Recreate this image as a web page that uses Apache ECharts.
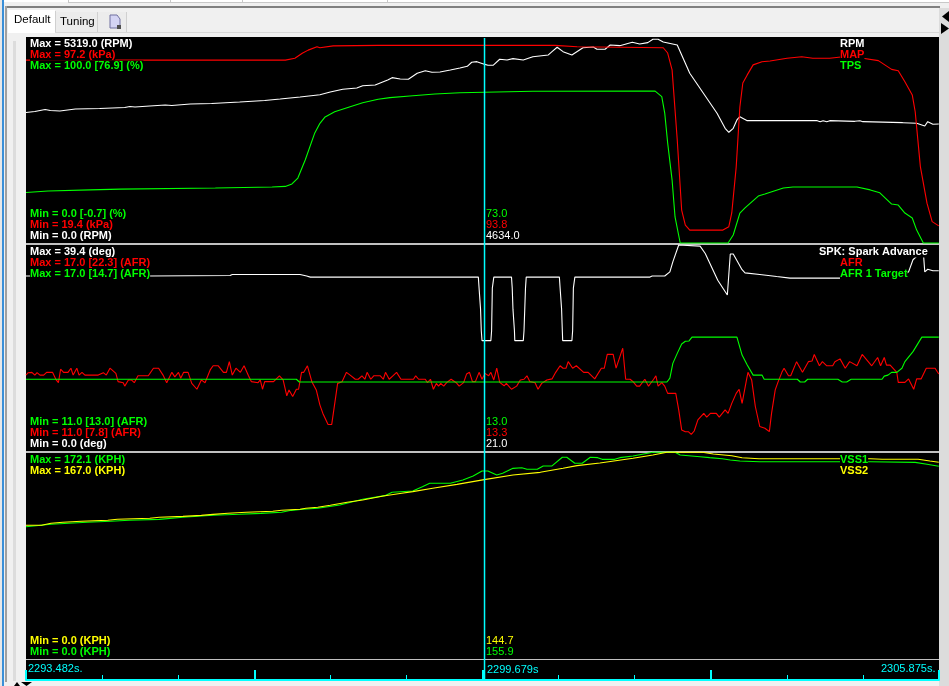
<!DOCTYPE html>
<html>
<head>
<meta charset="utf-8">
<title>Datalog</title>
<style>
	html, body { margin: 0; padding: 0; background: #f0f0f0; }
	#main { width: 949px; height: 686px; }
</style>
<script src="https://cdn.jsdelivr.net/npm/echarts@6/dist/echarts.min.js"></script>
</head>
<body>
<div id="main"></div>
<script>
// seconds since the start of the window, value in the channel's own unit
var logSpan = 12.393;
var cursorTime = 6.224;

var rpmData = [[0,3386],[.12,3412],[.26,3464],[.33,3438],[.46,3425],[.67,3477],[1,3490],[1.34,3516],[1.41,3542],[1.48,3529],[1.68,3555],[1.89,3581],[1.98,3568],[2.23,3607],[2.52,3620],[2.9,3659],[3.24,3698],[3.45,3737],[3.72,3789],[3.99,3848],[4.13,3918],[4.3,3989],[4.49,4022],[4.57,4082],[4.74,4100],[4.85,4186],[4.91,4230],[4.97,4290],[5.08,4256],[5.19,4248],[5.31,4404],[5.42,4471],[5.51,4430],[5.62,4437],[5.76,4489],[5.89,4541],[5.99,4585],[6.05,4689],[6.12,4705],[6.23,4634],[6.27,4611],[6.34,4611],[6.43,4767],[6.53,4749],[6.61,4783],[6.75,4749],[6.88,4834],[7.09,4879],[7.14,4964],[7.21,5078],[7.29,4964],[7.41,4879],[7.56,5068],[7.7,5086],[7.75,5027],[7.86,5027],[7.93,5138],[8.06,5120],[8.23,5208],[8.33,5164],[8.44,5198],[8.51,5286],[8.58,5286],[8.65,5216],[8.84,5138],[9.01,4404],[9.38,3366],[9.49,2976],[9.54,2873],[9.6,2976],[9.65,3192],[9.69,3278],[9.79,3174],[10.74,3174],[10.78,3148],[10.82,3174],[10.87,3148],[10.91,3174],[11.25,3157],[11.32,3174],[11.36,3148],[11.9,3122],[12.09,3106],[12.2,3036],[12.24,3148],[12.31,3080],[12.39,3088]];

var mapData = [[0,88.8],[3.52,88.8],[3.54,88.7],[3.65,89.5],[3.75,91.4],[3.83,92.6],[3.95,93.9],[3.99,93.5],[4.17,94.2],[4.78,94.4],[7.18,94.4],[7.48,93.9],[8.65,93.5],[8.71,91.5],[8.77,85.1],[8.84,58.5],[8.9,31.9],[8.95,26.2],[9.01,24.3],[9.46,24.3],[9.54,25.6],[9.58,30.8],[9.64,48.2],[9.69,71],[9.73,80.1],[9.79,83.2],[9.87,87],[9.99,88.2],[10.1,88.5],[10.33,89.5],[10.53,90.1],[10.68,89.5],[10.91,89.5],[11.09,90.1],[11.36,89.5],[11.57,88.6],[11.75,85.3],[11.84,84.8],[11.93,80.6],[12.03,75.6],[12.07,69.2],[12.14,48.4],[12.23,34.5],[12.3,27.5],[12.39,25.9]];

var tpsData = [[0,24.6],[.3,25.4],[.87,25.9],[1.28,26.3],[2.57,26.8],[3.34,27.3],[3.52,27.6],[3.61,28.8],[3.69,31.7],[3.79,40.5],[3.92,53.7],[3.99,58.4],[4.06,61.5],[4.19,64],[4.4,66.5],[4.57,68.4],[4.78,70.1],[4.94,70.9],[5.21,71.7],[5.55,72.7],[5.89,73.3],[6.88,74],[8.33,74.1],[8.54,74.1],[8.63,71.4],[8.67,63.4],[8.71,48.8],[8.77,30.7],[8.81,12.7],[8.88,0],[9.53,0],[9.6,3.9],[9.69,14.6],[9.76,17.1],[9.94,22.9],[10.03,23.9],[10.28,26.8],[10.41,27.3],[11.28,27.3],[11.46,25.9],[11.59,24.5],[11.75,19],[11.84,18.5],[11.93,14.6],[12.03,12.2],[12.09,6.3],[12.18,0],[12.39,0]];

var spkData = [[0,33.3],[1.66,33.3],[1.68,33.4],[2.77,33.4],[2.8,33.6],[3.72,33.6],[3.81,33.3],[3.86,33.1],[6.14,33.1],[6.15,31],[6.17,27],[6.18,22.9],[6.19,21],[6.31,21],[6.32,22.9],[6.33,31],[6.35,33.1],[6.59,33.1],[6.6,31],[6.61,27],[6.63,22.9],[6.635,21],[6.75,21],[6.76,22.9],[6.78,31],[6.79,33.1],[7.24,33.1],[7.25,31],[7.27,27],[7.28,22.9],[7.285,21],[7.41,21],[7.42,22.9],[7.43,31],[7.45,33.1],[8.47,33.1],[8.5,33.3],[8.67,33.3],[8.74,34.1],[8.78,36],[8.86,39.2],[9.15,39],[9.22,37.6],[9.39,32.5],[9.52,29.7],[9.56,37.5],[9.6,37.5],[9.72,34.5],[9.76,33.9],[9.96,33.6],[10.19,33.2],[10.37,32.9],[11.73,32.9],[11.93,33.6],[11.98,34.1],[12.04,36.4],[12.14,37.7],[12.18,37.9],[12.2,34.1],[12.24,34.6],[12.31,34.3],[12.39,34.3]];

var afrData = [[0,13.2],[.03,13.27],[.08,13.28],[.12,13.2],[.15,13.27],[.19,13.2],[.24,13.2],[.28,13.28],[.36,13.28],[.41,13.06],[.44,12.98],[.47,13.37],[.51,13.28],[.57,13.28],[.61,13.4],[.64,13.2],[.69,13.4],[.72,13.2],[.76,13.28],[.8,13.2],[.98,13.2],[1.05,13.27],[1.09,13.2],[1.14,13.4],[1.22,13.25],[1.25,13.01],[1.32,12.98],[1.34,12.88],[1.39,13.06],[1.43,13.06],[1.47,12.98],[1.52,13.18],[1.66,13.18],[1.73,13.4],[1.8,13.4],[1.86,13.2],[1.91,12.98],[1.98,13.28],[2.02,13.15],[2.07,13.28],[2.1,13.11],[2.14,13.28],[2.2,13.28],[2.25,12.96],[2.32,12.79],[2.38,13.06],[2.43,12.98],[2.5,13.35],[2.54,13.47],[2.61,13.47],[2.68,13.28],[2.72,13.28],[2.76,13.59],[2.8,13.2],[2.85,13.4],[2.91,13.28],[2.96,13.47],[3.02,13.18],[3.06,13.01],[3.15,12.98],[3.18,13.06],[3.21,12.79],[3.24,13.01],[3.36,13.01],[3.44,13.18],[3.49,13.06],[3.54,12.6],[3.57,12.77],[3.62,12.58],[3.67,12.79],[3.7,12.79],[3.74,13.28],[3.77,13.28],[3.82,13.47],[3.88,13.01],[3.94,12.77],[3.99,12.33],[4.03,12.09],[4.1,11.77],[4.15,11.77],[4.23,12.96],[4.29,13.01],[4.35,13.28],[4.4,13.2],[4.47,13.08],[4.51,13.08],[4.56,13.18],[4.6,13.08],[4.63,13.28],[4.68,13.08],[4.72,13.18],[4.81,13.18],[4.85,13.08],[4.88,13.28],[4.93,13.08],[4.98,13.18],[5.03,13.28],[5.09,13.08],[5.26,13.08],[5.29,13.18],[5.33,13.08],[5.42,13.08],[5.45,12.98],[5.49,13.08],[5.53,12.79],[5.57,12.96],[5.6,12.88],[5.63,12.96],[5.67,12.88],[5.71,12.98],[5.77,13.08],[5.84,12.98],[5.88,12.88],[5.94,12.98],[5.98,13.23],[6.02,13.28],[6.06,13.01],[6.1,13.01],[6.15,13.28],[6.19,13.08],[6.23,13.25],[6.28,13.18],[6.31,13.28],[6.35,13.06],[6.39,13.4],[6.43,12.99],[6.49,12.89],[6.52,12.96],[6.59,12.79],[6.66,12.88],[6.71,13.06],[6.76,13.08],[6.8,13.18],[6.84,13.01],[6.91,12.98],[6.95,12.79],[7,12.96],[7.07,13.06],[7.14,13.09],[7.19,13.28],[7.25,13.47],[7.29,13.4],[7.33,13.4],[7.36,13.59],[7.42,13.4],[7.47,13.47],[7.57,13.28],[7.63,13.28],[7.72,13.09],[7.81,13.4],[7.85,13.4],[7.89,13.8],[7.97,13.8],[8.01,13.4],[8.1,13.98],[8.14,13.08],[8.2,13.08],[8.24,13.01],[8.29,12.88],[8.33,12.88],[8.4,13.08],[8.45,12.88],[8.52,13.08],[8.55,13.18],[8.58,12.88],[8.63,12.98],[8.67,12.88],[8.71,12.67],[8.82,12.67],[8.86,12.19],[8.9,11.61],[8.95,11.56],[8.99,11.56],[9.03,11.48],[9.07,11.58],[9.12,11.9],[9.2,12.09],[9.24,11.98],[9.29,12.09],[9.37,12.09],[9.41,11.98],[9.49,12.19],[9.53,12.09],[9.58,12.38],[9.64,12.67],[9.68,12.79],[9.72,12.38],[9.78,13.06],[9.8,13.28],[9.85,13.06],[9.9,12.29],[9.96,11.71],[10.03,11.66],[10.09,11.56],[10.12,12.09],[10.17,12.77],[10.21,13.01],[10.26,13.28],[10.29,13.4],[10.35,13.18],[10.38,13.18],[10.46,13.59],[10.54,13.28],[10.62,13.59],[10.67,13.61],[10.7,13.8],[10.77,13.47],[10.81,13.59],[10.87,13.47],[10.95,13.47],[10.98,13.59],[11.05,13.67],[11.12,13.4],[11.18,13.59],[11.28,13.47],[11.35,13.8],[11.48,13.47],[11.56,13.71],[11.6,13.47],[11.65,13.71],[11.68,13.49],[11.73,13.49],[11.82,13.28],[11.84,12.99],[11.93,12.99],[11.98,13.09],[12.05,12.79],[12.09,13.09],[12.15,13.09],[12.22,13.4],[12.34,13.4],[12.39,13.23]];

var afrTargetData = [[0,13.08],[3.67,13.08],[3.71,13],[8.7,13],[8.74,13.11],[8.78,13.54],[8.84,13.83],[8.9,14.1],[8.95,14.18],[9,14.19],[9.04,14.3],[9.65,14.3],[9.72,13.78],[9.79,13.49],[9.87,13.2],[9.99,13.2],[10.02,13.08],[10.47,13.08],[10.51,13],[10.57,13],[10.61,13.08],[11.02,13.08],[11.08,13],[11.14,13],[11.2,13.08],[11.62,13.08],[11.65,13.17],[11.7,13.2],[11.75,13.28],[11.82,13.28],[11.89,13.4],[11.93,13.59],[12.04,13.88],[12.16,14.3],[12.39,14.3]];

var vss1Data = [[0,110],[.34,112],[.58,112.8],[.83,113.7],[1.15,114.5],[1.4,115.3],[1.81,116.1],[2.13,117.8],[2.54,119.5],[2.9,120.3],[3.19,121.1],[3.47,122],[3.6,123.6],[3.76,124.5],[3.96,125.3],[4.26,128],[4.57,132.8],[4.87,135.8],[4.97,138.6],[5.25,139.7],[5.38,143.2],[5.48,146.1],[5.76,146.1],[5.93,148.8],[6.07,152.1],[6.19,156.3],[6.27,156.3],[6.39,153],[6.47,154.4],[6.61,158.5],[6.73,159],[6.8,157.7],[6.94,157.7],[7.02,160.5],[7.14,160.5],[7.28,167.7],[7.34,167.7],[7.45,162.7],[7.55,162.7],[7.66,167.7],[7.76,167.4],[7.82,166],[7.99,166],[8.06,167.4],[8.24,168.8],[8.51,171.9],[8.81,171.9],[8.88,169.6],[9.15,168.2],[9.28,167.4],[9.45,166.5],[9.56,165.4],[9.69,164.6],[9.96,164],[11.46,164],[12.07,163.5],[12.23,161.9],[12.39,160.2]];

var vss2Data = [[0,107.9],[.21,107.9],[.22,108.7],[.34,109.5],[.5,110.3],[.75,111.1],[1.11,111.9],[1.24,112.7],[1.68,113.5],[1.81,114.3],[2.13,115.1],[2.38,115.9],[2.54,116.7],[2.74,117.6],[2.99,118.4],[3.35,119.2],[3.47,120],[3.72,120.8],[3.8,121.6],[3.96,122.4],[4.13,124],[4.36,126.4],[4.57,128.3],[4.85,131.5],[5.1,133.7],[5.25,135],[5.52,137.7],[5.85,140.9],[6.22,144.7],[6.61,148.5],[6.98,150.6],[7.29,153.9],[7.48,156],[7.79,158.1],[8.24,161.9],[8.51,164.6],[8.7,166.8],[9.18,166.8],[9.33,165.4],[9.58,164],[9.72,162.4],[9.95,161.6],[11.46,161.6],[11.62,161.1],[12.11,161.1],[12.27,159.7],[12.39,158.7]];

// text rows of each pane: label, colour, left, centre line, weight
var GREEN = '#00ff00', RED = '#ff0000', WHITE = '#ffffff', YELLOW = '#ffff00', CYAN = '#00ffff';
var paneLabels = [
	['Max = 5319.0 (RPM)', WHITE, 30, 44, 'bold'],
	['Max = 97.2 (kPa)', RED, 30, 55, 'bold'],
	['Max = 100.0 [76.9] (%)', GREEN, 30, 66, 'bold'],
	['Min = 0.0 [-0.7] (%)', GREEN, 30, 214, 'bold'],
	['Min = 19.4 (kPa)', RED, 30, 225, 'bold'],
	['Min = 0.0 (RPM)', WHITE, 30, 236, 'bold'],
	['RPM', WHITE, 840, 44, 'bold'],
	['MAP', RED, 840, 55, 'bold'],
	['TPS', GREEN, 840, 66, 'bold'],
	['73.0', GREEN, 486, 214, 'normal'],
	['93.8', RED, 486, 225, 'normal'],
	['4634.0', WHITE, 486, 236, 'normal'],
	['Max = 39.4 (deg)', WHITE, 30, 252, 'bold'],
	['Max = 17.0 [22.3] (AFR)', RED, 30, 263, 'bold'],
	['Max = 17.0 [14.7] (AFR)', GREEN, 30, 274, 'bold'],
	['Min = 11.0 [13.0] (AFR)', GREEN, 30, 422, 'bold'],
	['Min = 11.0 [7.8] (AFR)', RED, 30, 433, 'bold'],
	['Min = 0.0 (deg)', WHITE, 30, 444, 'bold'],
	['SPK: Spark Advance', WHITE, 819, 252, 'bold'],
	['AFR', RED, 840, 263, 'bold'],
	['AFR 1 Target', GREEN, 840, 274, 'bold'],
	['13.0', GREEN, 486, 422, 'normal'],
	['13.3', RED, 486, 433, 'normal'],
	['21.0', WHITE, 486, 444, 'normal'],
	['Max = 172.1 (KPH)', GREEN, 30, 460, 'bold'],
	['Max = 167.0 (KPH)', YELLOW, 30, 471, 'bold'],
	['Min = 0.0 (KPH)', YELLOW, 30, 641, 'bold'],
	['Min = 0.0 (KPH)', GREEN, 30, 652, 'bold'],
	['VSS1', GREEN, 840, 460, 'bold'],
	['VSS2', YELLOW, 840, 471, 'bold'],
	['144.7', YELLOW, 486, 641, 'normal'],
	['155.9', GREEN, 486, 652, 'normal'],
	['2293.482s.', CYAN, 28, 669, 'normal'],
	['2299.679s', CYAN, 487, 670, 'normal'],
	['2305.875s.', CYAN, 881, 669, 'normal']
];

var myChart = echarts.init(document.getElementById('main'));

function plotGrid(top, height) {
	return {left: 26, width: 913, top: top, height: height};
}

function timeAxis(gridIndex) {
	return {type: 'value', gridIndex: gridIndex, min: 0, max: logSpan, show: false};
}

function rangeAxis(gridIndex, min, max) {
	return {type: 'value', gridIndex: gridIndex, min: min, max: max, show: false};
}

function channel(name, data, gridIndex, yAxisIndex, color) {
	return {
		name: name,
		type: 'line',
		data: data,
		xAxisIndex: gridIndex,
		yAxisIndex: yAxisIndex,
		showSymbol: false,
		clip: false,
		animation: false,
		silent: true,
		lineStyle: {color: color, width: 1.1}
	};
}

// timeline ruler: one axis for the thin ticks, one for the thick ones
function rulerAxis(interval, tickLength, tickWidth, drawLine) {
	return {
		type: 'value', gridIndex: 3, min: 0, max: logSpan, interval: interval, position: 'bottom', z: 5,
		axisLine: {show: drawLine, lineStyle: {color: CYAN, width: 2}},
		axisTick: {show: true, inside: true, length: tickLength, lineStyle: {color: CYAN, width: tickWidth}},
		axisLabel: {show: false},
		splitLine: {show: false}
	};
}

function box(x, y, w, h, fill, z) {
	return {type: 'rect', z: z || 1, silent: true, shape: {x: x, y: y, width: w, height: h}, style: {fill: fill}};
}

function arrow(points) {
	return {type: 'polygon', z: 1, silent: true, shape: {points: points}, style: {fill: '#000'}};
}

function chromeItems() {
	return [
		box(0, 0, 949, 686, '#f0f0f0'),
		box(0, 0, 949, 2, '#ffffff'),
		box(68, 2, 881, 1, '#c8c8c8'),
		box(68, 0, 1, 3, '#c8c8c8'),
		box(170, 0, 1, 3, '#c8c8c8'),
		box(242, 0, 1, 3, '#c8c8c8'),
		box(387, 0, 1, 3, '#c8c8c8'),
		box(0, 0, 2, 686, '#e8e8e8'),
		box(2, 0, 2, 686, '#3a8fd8'),
		box(5, 6, 935, 2, '#808080'),
		box(5, 6, 2, 676, '#a0a0a0'),
		box(13, 41, 3, 640, '#dcdcdc'),
		box(25, 32, 914, 1, '#d8d8d8'),
		box(8, 10, 47, 23, '#ffffff'),
		box(56, 12, 41, 20, '#ececec'),
		box(98, 12, 28, 20, '#ececec'),
		box(55, 11, 1, 21, '#d0d0d0'),
		box(97, 12, 1, 20, '#d0d0d0'),
		box(126, 12, 1, 20, '#d0d0d0'),
		{type: 'polygon', z: 1, silent: true, shape: {points: [[110, 15], [117, 15], [120, 19], [120, 28], [110, 28]]}, style: {fill: '#d4d4f4', stroke: '#7070a0', lineWidth: 1}},
		box(117, 25, 4, 4, '#505050'),
		{type: 'text', z: 2, silent: true, x: 14, y: 20, style: {text: 'Default', fill: '#000', font: '11.5px "Liberation Sans"', verticalAlign: 'middle'}},
		{type: 'text', z: 2, silent: true, x: 60, y: 22, style: {text: 'Tuning', fill: '#000', font: '11.5px "Liberation Sans"', verticalAlign: 'middle'}},
		box(939, 8, 10, 678, '#dcdcdc'),
		arrow([[949, 11], [949, 22], [942, 16.5]]),
		arrow([[941, 23], [941, 34], [949, 28.5]]),
		arrow([[14, 686], [17, 682], [20, 686]]),
		arrow([[21, 682], [32, 682], [26.5, 686]]),
		box(26, 37, 913, 644, '#000000'),
		box(26, 243, 913, 2, '#c0c0c0'),
		box(26, 451, 913, 2, '#c0c0c0'),
		box(26, 659, 913, 1, '#c0c0c0')
	];
}

function labelItems() {
	var items = [];
	for (var i = 0; i < paneLabels.length; i++) {
		var row = paneLabels[i];
		items.push({
			type: 'text',
			z: 50,
			silent: true,
			x: row[2],
			y: row[3],
			style: {
				text: row[0],
				fill: row[1],
				font: row[4] + ' 11px "Liberation Sans"',
				verticalAlign: 'middle',
				backgroundColor: '#000'
			}
		});
	}
	return items;
}

var cursorSeries = channel('cursor', [[cursorTime, 0], [cursorTime, 1]], 4, 9, CYAN);
cursorSeries.z = 20;
cursorSeries.lineStyle.width = 1.5;

var option = {
	backgroundColor: '#f0f0f0',
	animation: false,
	grid: [
		plotGrid(38, 205),
		plotGrid(244, 207),
		plotGrid(452, 207),
		plotGrid(660, 20),
		plotGrid(38, 642)
	],
	xAxis: [
		timeAxis(0),
		timeAxis(1),
		timeAxis(2),
		rulerAxis(logSpan / 12, 5, 1, true),
		timeAxis(4),
		rulerAxis(logSpan / 4, 10, 2, false)
	],
	yAxis: [
		rangeAxis(0, 0, 5319),
		rangeAxis(0, 19.4, 97.2),
		rangeAxis(0, 0, 100),
		rangeAxis(1, 0, 39.4),
		rangeAxis(1, 11, 17),
		rangeAxis(1, 11, 17),
		rangeAxis(2, 0, 172.1),
		rangeAxis(2, 0, 167),
		rangeAxis(3, 0, 1),
		rangeAxis(4, 0, 1)
	],
	graphic: {elements: chromeItems().concat(labelItems())},
	series: [
		channel('RPM', rpmData, 0, 0, WHITE),
		channel('MAP', mapData, 0, 1, RED),
		channel('TPS', tpsData, 0, 2, GREEN),
		channel('SPK: Spark Advance', spkData, 1, 3, WHITE),
		channel('AFR', afrData, 1, 4, RED),
		channel('AFR 1 Target', afrTargetData, 1, 5, GREEN),
		channel('VSS1', vss1Data, 2, 6, GREEN),
		channel('VSS2', vss2Data, 2, 7, YELLOW),
		cursorSeries
	]
};
myChart.setOption(option);
</script>
</body>
</html>
